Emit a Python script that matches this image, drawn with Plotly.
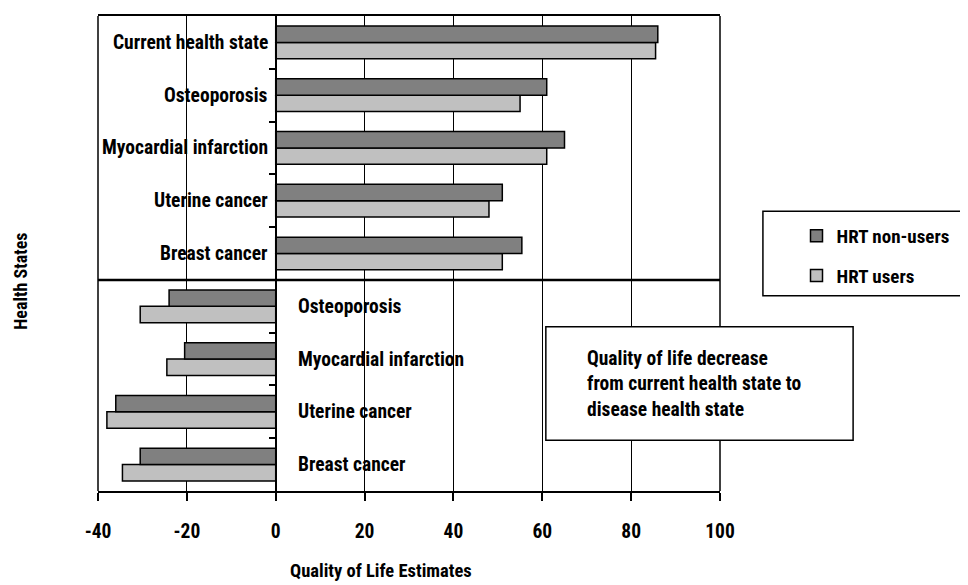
import plotly.graph_objects as go

# ---- data ----
categories = ["Current health state", "Osteoporosis", "Myocardial infarction",
              "Uterine cancer", "Breast cancer",
              "Osteoporosis", "Myocardial infarction", "Uterine cancer", "Breast cancer"]
section = ["top", "top", "top", "top", "top", "bottom", "bottom", "bottom", "bottom"]
hrt_non_users = [86.0, 61.0, 65.0, 51.0, 55.4, -24.0, -20.5, -36.0, -30.5]
hrt_users = [85.5, 55.0, 61.0, 48.0, 51.0, -30.5, -24.5, -38.0, -34.5]
x_ticks = [-40, -20, 0, 20, 40, 60, 80, 100]
series_names = ["HRT non-users", "HRT users"]
note_text = "Quality of life decrease<br>from current health state to<br>disease health state"

FONT = "Roboto Condensed, DejaVu Sans Condensed, sans-serif"
BOLD = "bold"
n = len(categories)
ypos = [n - 1 - i for i in range(n)]

fig = go.Figure()
fig.add_trace(go.Bar(
    y=ypos, x=hrt_users, orientation="h", name=series_names[1],
    legendgroup="b", legendrank=2,
    marker=dict(color="#c0c0c0", line=dict(color="black", width=1.5)),
))
fig.add_trace(go.Bar(
    y=ypos, x=hrt_non_users, orientation="h", name=series_names[0],
    legendgroup="a", legendrank=1,
    marker=dict(color="#808080", line=dict(color="black", width=1.5)),
))

def f(size=19.5):
    return dict(size=size, color="black", family=FONT, weight=BOLD)

annotations = []
for cat, sec, y in zip(categories, section, ypos):
    if sec == "top":
        annotations.append(dict(x=0, y=y, xref="x", yref="y", text=cat, showarrow=False,
                                xanchor="right", xshift=-6, font=f()))
    else:
        annotations.append(dict(x=0, y=y, xref="x", yref="y", text=cat, showarrow=False,
                                xanchor="left", xshift=20, font=f()))

annotations.append(dict(x=0.783, y=0.2243, xref="paper", yref="paper", text=note_text,
                        showarrow=False, xanchor="left", yanchor="middle", align="left",
                        font=f(19.5)))
annotations.append(dict(x=-0.146, y=0.442, xref="paper", yref="paper", text="Health States",
                        showarrow=False, textangle=-90, font=f(18)))
annotations.append(dict(x=0.455, y=-0.168, xref="paper", yref="paper", text="Quality of Life Estimates",
                        showarrow=False, yanchor="middle", font=f(18.5)))

n_top = section.count("top")
shapes = [
    dict(type="line", xref="paper", yref="y", x0=0, x1=1, y0=n - n_top - 0.5, y1=n - n_top - 0.5,
         line=dict(color="black", width=2.5)),
    dict(type="line", xref="paper", yref="paper", x0=0, x1=0, y0=0, y1=1, line=dict(color="black", width=1.5)),
    dict(type="line", xref="paper", yref="paper", x0=1, x1=1, y0=0, y1=1, line=dict(color="black", width=1.5)),
    dict(type="rect", xref="paper", yref="paper", x0=0.720, x1=1.214, y0=0.107, y1=0.346,
         fillcolor="white", line=dict(color="black", width=1.5), layer="above"),
    dict(type="rect", xref="paper", yref="paper", x0=1.069, x1=1.42, y0=0.411, y1=0.589,
         fillcolor="white", line=dict(color="black", width=1.5), layer="below"),
]

fig.update_layout(
    width=968, height=585,
    margin=dict(l=90, r=256, t=6, b=102),
    paper_bgcolor="white", plot_bgcolor="white",
    barmode="group", bargap=0.38, bargroupgap=0,
    font=dict(family=FONT, size=19, color="black"),
    showlegend=True,
    legend=dict(x=1.123, y=0.577, xanchor="left", yanchor="top",
                traceorder="grouped", tracegroupgap=12,
                bgcolor="rgba(0,0,0,0)", borderwidth=0,
                font=f(19)),
    annotations=annotations,
    shapes=shapes,
    xaxis=dict(range=[-40, 100], tickvals=x_ticks, ticktext=[str(v) for v in x_ticks],
               ticks="outside", ticklen=8, tickwidth=1.5, tickcolor="black",
               showline=True, linecolor="black", linewidth=1.5, mirror=True,
               showgrid=True, gridcolor="black", gridwidth=1, zeroline=False,
               ticklabelstandoff=14, tickfont=f()),
    yaxis=dict(range=[-0.5, n - 0.5], anchor="free", position=40 / 140,
               showline=True, linecolor="black", linewidth=1.5,
               ticks="outside", ticklen=6, tickwidth=1.5, tickcolor="black",
               tickvals=[k + 0.5 for k in range(n - 1)], showticklabels=False,
               showgrid=False, zeroline=False),
)

fig.write_html("out.html")
